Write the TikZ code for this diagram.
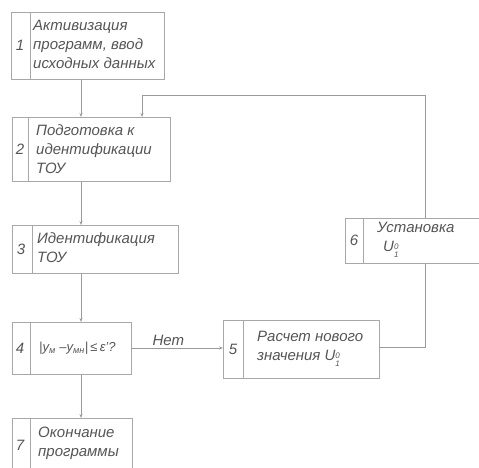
\documentclass[tikz,border=0pt]{standalone}
\usepackage{fontspec}
\setmainfont{Liberation Sans}
\usetikzlibrary{arrows.meta}
\definecolor{linec}{HTML}{9A9A9A}
\definecolor{boxc}{HTML}{A8A8A8}
\definecolor{txtc}{HTML}{555555}
\newcommand{\Unull}{U\raisebox{-0.75ex}{\shortstack[l]{\fontsize{8}{7.5}\selectfont 0\\\fontsize{8}{7.5}\selectfont 1}}}
\tikzset{
  box/.style={draw=boxc, line width=0.8pt, rectangle, inner sep=0pt, anchor=north west},
  divline/.style={draw=boxc, line width=0.8pt},
  conn/.style={draw=linec, line width=0.7pt},
  arr/.style={conn, -{Stealth[length=4pt,width=3pt]}},
  numtxt/.style={text=txtc, font=\fontsize{15}{19}\selectfont\itshape, inner sep=0pt, anchor=center},
  bodytxt/.style={text=txtc, font=\fontsize{15}{19}\selectfont\itshape, inner sep=0pt, anchor=west, align=left},
}
\begin{document}
\begin{tikzpicture}[x=1pt,y=-1pt]
\useasboundingbox (0,0) rectangle (479,468);
% boxes
\node[box, minimum width=153pt, minimum height=67pt] (b1) at (11,12) {};
\node[box, minimum width=158pt, minimum height=64pt] (b2) at (12,117) {};
\node[box, minimum width=166pt, minimum height=48pt] (b3) at (12,225) {};
\node[box, minimum width=119pt, minimum height=52pt] (b4) at (12,322) {};
\node[box, minimum width=156pt, minimum height=58pt] (b5) at (223,320) {};
\node[box, minimum width=140pt, minimum height=45pt] (b6) at (345,218) {};
\node[box, minimum width=120pt, minimum height=60pt] (b7) at (12,418) {};
% dividers
\draw[divline] (30,12) -- (30,79);
\draw[divline] (28,117) -- (28,181);
\draw[divline] (32,225) -- (32,273);
\draw[divline] (30,322) -- (30,374);
\draw[divline] (243,320) -- (243,378);
\draw[divline] (363,218) -- (363,263);
\draw[divline] (30,418) -- (30,478);
% numbers
\node[numtxt] (n1) at (20,45) {1};
\node[numtxt] (n2) at (20,149) {2};
\node[numtxt] (n3) at (21,249) {3};
\node[numtxt] (n4) at (20,348) {4};
\node[numtxt] (n5) at (233,349) {5};
\node[numtxt] (n6) at (354,240) {6};
\node[numtxt] (n7) at (20,445) {7};
% texts
\node[bodytxt] (t1) at (33,44) {Активизация\\программ, ввод\\исходных данных};
\node[bodytxt] (t2) at (36,149) {Подготовка к\\идентификации\\ТОУ};
\node[bodytxt] (t3) at (37,248) {Идентификация\\ТОУ};
\node[bodytxt, font=\fontsize{13}{17}\selectfont\itshape] (t4) at (39,348) {|y\textsubscript{м} –y\textsubscript{мн}|\,≤\,ε'?};
\node[bodytxt] (t5) at (257,349) {Расчет нового\\значения \Unull};
\node[bodytxt] (t6) at (377,240) {Установка\\\hspace*{6pt}\Unull};
\node[bodytxt] (t7) at (38,443) {Окончание\\программы};
% connectors
\coordinate (mx) at (81,0);
\coordinate (fx) at (142,0);
\coordinate (rx) at (425,0);
\coordinate (ty) at (0,95);
\coordinate (ny) at (0,348);
\coordinate (cy) at (0,347);
\draw[arr] (b1.south -| mx) -- (b2.north -| mx);
\draw[arr] (b2.south -| mx) -- (b3.north -| mx);
\draw[arr] (b3.south -| mx) -- (b4.north -| mx);
\draw[arr] (b4.south -| mx) -- (b7.north -| mx);
\draw[arr] (b4.east |- ny) -- node[pos=0.4, above=2pt, text=txtc, font=\fontsize{15}{19}\selectfont\itshape, inner sep=0pt] (lbl) {Нет} (b5.west |- ny);
\draw[conn] (b5.east |- cy) -| (b6.south -| rx);
\draw[arr] (b6.north -| rx) |- (ty -| fx) -- (b2.north -| fx);
\end{tikzpicture}
\end{document}
